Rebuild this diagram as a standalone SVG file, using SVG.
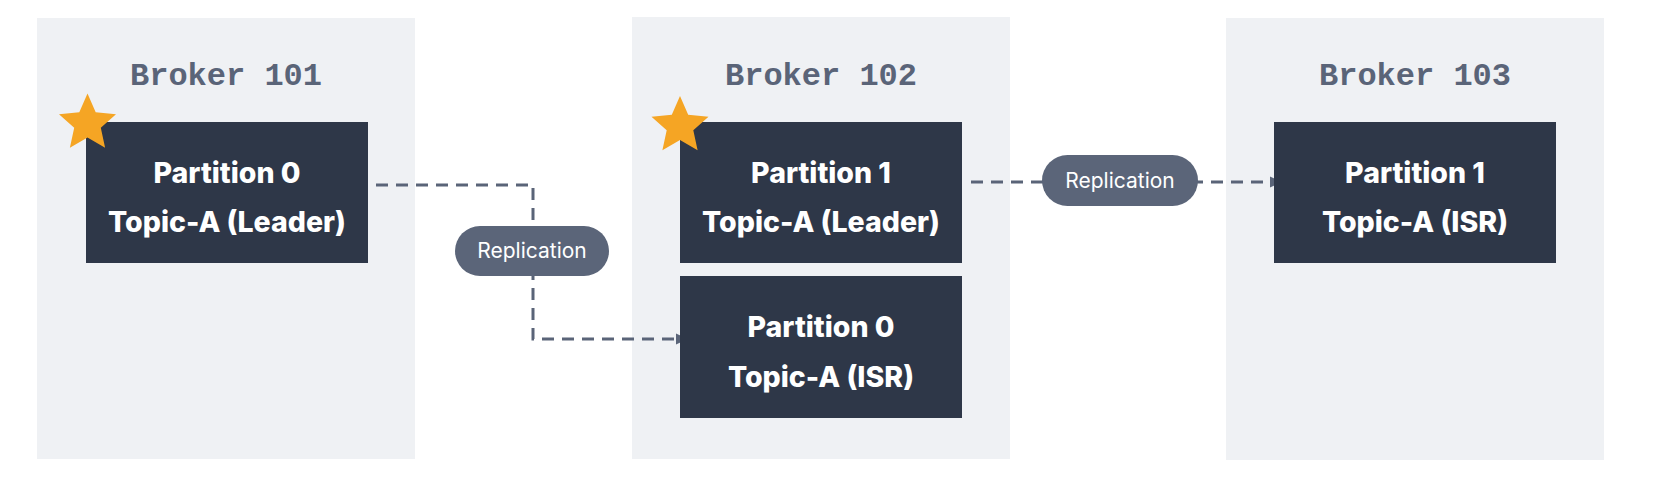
<svg xmlns="http://www.w3.org/2000/svg" width="1678" height="484" viewBox="0 0 1678 484">
  <style>
    .panel { fill: #eff1f4; }
    .title { font-family: "Liberation Mono", "DejaVu Sans Mono", monospace; font-weight: 700; font-size: 32px; fill: #5a6478; text-anchor: middle; }
    .box { fill: #2e3748; }
    .btxt { font-family: Inter, "Noto Sans", sans-serif; font-weight: 800; font-size: 28.5px; fill: #ffffff; text-anchor: middle; }
    .star { fill: #f5a524; }
    .conn { fill: none; stroke: #5a6478; stroke-width: 3; stroke-dasharray: 12 8; }
    .pill { fill: #5b6579; }
    .ptxt { font-family: Inter, "Noto Sans", sans-serif; font-size: 21px; fill: #ffffff; text-anchor: middle; }
  </style>
  <defs>
    <marker id="arrow" markerUnits="userSpaceOnUse" markerWidth="12" markerHeight="12" refX="12" refY="6" orient="auto">
      <path d="M0,0.5 L12,6 L0,11.5 z" fill="#5a6478"/>
    </marker>
    <polygon id="starShape" points="0,-30 8.2,-11.3 28.5,-9.3 13.3,4.3 17.6,24.3 0,14 -17.6,24.3 -13.3,4.3 -28.5,-9.3 -8.2,-11.3"/>
  </defs>
  <rect width="1678" height="484" fill="#ffffff"/>

  <g id="broker-101">
    <rect class="panel" x="37" y="18" width="378" height="441"/>
    <text class="title" x="226" y="85">Broker 101</text>
  </g>
  <g id="broker-102">
    <rect class="panel" x="632" y="17" width="378" height="442"/>
    <text class="title" x="821" y="85">Broker 102</text>
  </g>
  <g id="broker-103">
    <rect class="panel" x="1226" y="18" width="378" height="442"/>
    <text class="title" x="1415" y="85">Broker 103</text>
  </g>

  <g id="connectors">
    <path class="conn" d="M376,185 H533 V339 H688" marker-end="url(#arrow)"/>
    <path class="conn" d="M971,182 H1282" marker-end="url(#arrow)"/>
  </g>

  <g id="b101-p0-leader">
    <rect class="box" x="86" y="122" width="282" height="141"/>
    <text class="btxt" x="227" y="183">Partition 0</text>
    <text class="btxt" x="227" y="232">Topic-A (Leader)</text>
    <use href="#starShape" class="star" x="87.5" y="123.5"/>
  </g>
  <g id="b102-p1-leader">
    <rect class="box" x="680" y="122" width="282" height="141"/>
    <text class="btxt" x="821" y="183">Partition 1</text>
    <text class="btxt" x="821" y="232">Topic-A (Leader)</text>
    <use href="#starShape" class="star" x="680" y="126"/>
  </g>
  <g id="b102-p0-isr">
    <rect class="box" x="680" y="276" width="282" height="142"/>
    <text class="btxt" x="821" y="337">Partition 0</text>
    <text class="btxt" x="821" y="387">Topic-A (ISR)</text>
  </g>
  <g id="b103-p1-isr">
    <rect class="box" x="1274" y="122" width="282" height="141"/>
    <text class="btxt" x="1415" y="183">Partition 1</text>
    <text class="btxt" x="1415" y="232">Topic-A (ISR)</text>
  </g>

  <g id="replication-1">
    <rect class="pill" x="455" y="226" width="154" height="50" rx="25"/>
    <text class="ptxt" x="532" y="258">Replication</text>
  </g>
  <g id="replication-2">
    <rect class="pill" x="1042" y="155" width="156" height="51" rx="25.5"/>
    <text class="ptxt" x="1120" y="188">Replication</text>
  </g>
</svg>
